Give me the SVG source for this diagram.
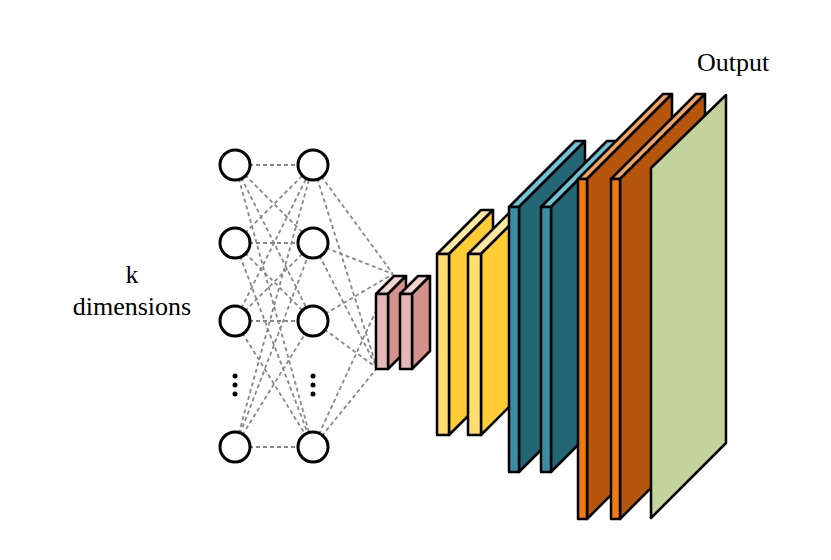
<svg xmlns="http://www.w3.org/2000/svg" width="831" height="560" viewBox="0 0 831 560">
<style>
.n{fill:#fff;stroke:#000;stroke-width:3}
.c line{stroke:#888;stroke-width:1.8;stroke-dasharray:4,3}
.b{stroke:#000;stroke-width:2.5;stroke-linejoin:round}
text{font-family:"Liberation Serif","Times New Roman","DejaVu Serif",serif;font-size:26px;fill:#000}
</style>
<rect width="831" height="560" fill="#fff"/>
<g class="c" id="connectors">
<line x1="235" y1="165" x2="313" y2="165"/><line x1="235" y1="165" x2="313" y2="243"/><line x1="235" y1="165" x2="313" y2="321"/><line x1="235" y1="165" x2="313" y2="447"/>
<line x1="235" y1="243" x2="313" y2="165"/><line x1="235" y1="243" x2="313" y2="243"/><line x1="235" y1="243" x2="313" y2="321"/><line x1="235" y1="243" x2="313" y2="447"/>
<line x1="235" y1="321" x2="313" y2="165"/><line x1="235" y1="321" x2="313" y2="243"/><line x1="235" y1="321" x2="313" y2="321"/><line x1="235" y1="321" x2="313" y2="447"/>
<line x1="235" y1="447" x2="313" y2="165"/><line x1="235" y1="447" x2="313" y2="243"/><line x1="235" y1="447" x2="313" y2="321"/><line x1="235" y1="447" x2="313" y2="447"/>
<line x1="313" y1="165" x2="393" y2="274"/><line x1="313" y1="165" x2="377" y2="368"/>
<line x1="313" y1="243" x2="393" y2="274"/><line x1="313" y1="243" x2="377" y2="368"/>
<line x1="313" y1="321" x2="393" y2="274"/><line x1="313" y1="321" x2="377" y2="368"/>
<line x1="313" y1="447" x2="393" y2="274"/><line x1="313" y1="447" x2="377" y2="368"/>
</g>
<g id="input-layer">
<circle class="n" cx="235" cy="165" r="15"/><circle class="n" cx="235" cy="243" r="15"/><circle class="n" cx="235" cy="321" r="15"/><circle class="n" cx="235" cy="447" r="15"/>
<circle cx="235" cy="376" r="2.5"/><circle cx="235" cy="385" r="2.5"/><circle cx="235" cy="394" r="2.5"/>
</g>
<g id="hidden-layer">
<circle class="n" cx="313" cy="165" r="15"/><circle class="n" cx="313" cy="243" r="15"/><circle class="n" cx="313" cy="321" r="15"/><circle class="n" cx="313" cy="447" r="15"/>
<circle cx="313" cy="376" r="2.5"/><circle cx="313" cy="385" r="2.5"/><circle cx="313" cy="394" r="2.5"/>
</g>
<text x="132" y="283" text-anchor="middle">k</text>
<text x="132" y="315" text-anchor="middle">dimensions</text>
<g id="pink1" class="b"><polygon points="376,294 394,276 406,276 388,294" fill="#f2d3d0"/><polygon points="388,294 406,276 406,351 388,369" fill="#d4908b"/><rect x="376" y="294" width="12" height="75" fill="#e6b8b5"/></g>
<g id="pink2" class="b"><polygon points="400,294 418,276 430,276 412,294" fill="#f2d3d0"/><polygon points="412,294 430,276 430,351 412,369" fill="#d4908b"/><rect x="400" y="294" width="12" height="75" fill="#e6b8b5"/></g>
<g id="yellow1" class="b"><polygon points="437,254 481,210 493,210 449,254" fill="#ffe9a0"/><polygon points="449,254 493,210 493,391 449,435" fill="#ffcc33"/><rect x="437" y="254" width="12" height="181" fill="#ffdd6e"/></g>
<g id="yellow2" class="b"><polygon points="468,254 512,210 525,210 481,254" fill="#ffe9a0"/><polygon points="481,254 525,210 525,391 481,435" fill="#ffcc33"/><rect x="468" y="254" width="13" height="181" fill="#ffdd6e"/></g>
<g id="teal1" class="b"><polygon points="509,207 575,141 585,141 519,207" fill="#6ec3d6"/><polygon points="519,207 585,141 585,406 519,472" fill="#236676"/><rect x="509" y="207" width="10" height="265" fill="#3a8ea3"/></g>
<g id="teal2" class="b"><polygon points="541,207 607,141 617,141 551,207" fill="#6ec3d6"/><polygon points="551,207 617,141 617,406 551,472" fill="#236676"/><rect x="541" y="207" width="10" height="265" fill="#3a8ea3"/></g>
<g id="orange1" class="b"><polygon points="578,179 663,94 672,94 587,179" fill="#f4a460"/><polygon points="587,179 672,94 672,434 587,519" fill="#b5560c"/><rect x="578" y="179" width="9" height="340" fill="#f07a12"/></g>
<g id="orange2" class="b"><polygon points="611,179 696,94 705,94 620,179" fill="#f4a460"/><polygon points="620,179 705,94 705,434 620,519" fill="#b5560c"/><rect x="611" y="179" width="9" height="340" fill="#f07a12"/></g>
<g id="output" class="b"><polygon points="651,168 726,95 726,443 651,518" fill="#c2d49c"/></g>
<text x="733" y="71" text-anchor="middle">Output</text>
</svg>
